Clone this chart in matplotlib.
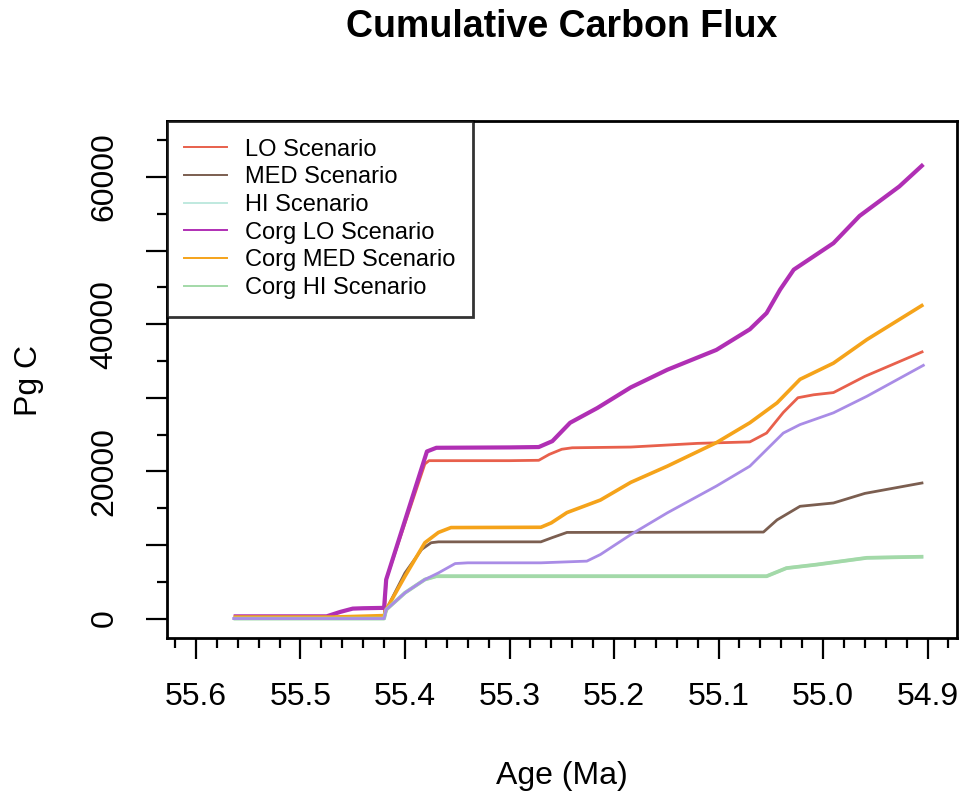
import numpy as np
import matplotlib.pyplot as plt
from matplotlib.lines import Line2D

plt.rcParams['font.family'] = ['Liberation Sans', 'DejaVu Sans']

# ages (Ma) and cumulative flux (Pg C)
age_lo = [55.564, 55.42, 55.418, 55.381, 55.377, 55.30, 55.272, 55.262, 55.25, 55.24,
          55.184, 55.12, 55.07, 55.054, 55.038, 55.024, 55.009, 54.99, 54.96, 54.904]
lo = [0, 0, 5300, 21000, 21450, 21450, 21500, 22300, 23000, 23200,
      23300, 23800, 24000, 25200, 28000, 30000, 30400, 30700, 32900, 36300]

age_med = [55.564, 55.42, 55.418, 55.40, 55.384, 55.375, 55.368, 55.27, 55.259, 55.245,
           55.057, 55.044, 55.022, 54.99, 54.96, 54.904]
med = [0, 0, 1200, 6200, 9400, 10300, 10420, 10420, 11000, 11700,
       11750, 13400, 15250, 15700, 17000, 18450]

age_hi = [55.564, 55.42, 55.418, 55.40, 55.381, 55.37, 55.054, 55.035, 55.006, 54.958, 54.904]
hi = [0, 0, 1200, 3500, 5300, 5750, 5750, 6850, 7330, 8250, 8400]

age_clo = [55.564, 55.475, 55.462, 55.45, 55.44, 55.42, 55.418, 55.379, 55.37, 55.30,
           55.272, 55.259, 55.242, 55.216, 55.184, 55.149, 55.102, 55.070, 55.054, 55.041,
           55.028, 55.009, 54.990, 54.965, 54.927, 54.904]
clo = [300, 300, 900, 1350, 1400, 1450, 5300, 22700, 23200, 23250,
       23300, 24100, 26600, 28600, 31400, 33800, 36500, 39300, 41500, 44700,
       47400, 49200, 51000, 54700, 58700, 61700]

age_cmed = [55.564, 55.47, 55.42, 55.418, 55.40, 55.381, 55.368, 55.356, 55.27, 55.26,
            55.245, 55.228, 55.213, 55.184, 55.149, 55.102, 55.070, 55.044, 55.022, 54.990,
            54.958, 54.904]
cmed = [200, 200, 400, 1200, 5750, 10300, 11700, 12360, 12400, 13000,
        14400, 15300, 16100, 18500, 20700, 23900, 26600, 29300, 32500, 34700,
        37900, 42650]

age_chi = [55.564, 55.42, 55.418, 55.40, 55.381, 55.37, 55.054, 55.035, 55.006, 54.958, 54.904]
chi = [0, 0, 1200, 3500, 5300, 5750, 5750, 6850, 7330, 8250, 8400]

# extra unlabelled series (lavender)
age_extra = [55.564, 55.42, 55.418, 55.40, 55.381, 55.368, 55.352, 55.34, 55.27, 55.226,
             55.213, 55.184, 55.149, 55.102, 55.070, 55.038, 55.022, 54.990, 54.958, 54.904]
extra = [0, 0, 1200, 3500, 5300, 6200, 7470, 7570, 7570, 7800,
         8700, 11400, 14360, 18000, 20700, 25200, 26350, 27950, 30200, 34400]

names = ['LO Scenario', 'MED Scenario', 'HI Scenario',
         'Corg LO Scenario', 'Corg MED Scenario', 'Corg HI Scenario']
colors = ['#E8604C', '#7B5E50', '#BFE9DF', '#B02FB4', '#F5A31A', '#A3D9A8']
widths = [2.0, 2.0, 2.4, 3.0, 2.6, 2.7]

xticks = [55.6, 55.5, 55.4, 55.3, 55.2, 55.1, 55.0, 54.9]
xlabels = ['55.6', '55.5', '55.4', '55.3', '55.2', '55.1', '55.0', '54.9']
yticks = [0, 10000, 20000, 30000, 40000, 50000, 60000]
ylabels = ['0', '', '20000', '', '40000', '', '60000']

fig = plt.figure(figsize=(9.61, 7.98), dpi=100)
ax = fig.add_axes([0.1735, 0.2009, 0.8221, 0.6475])

series = [(age_lo, lo), (age_med, med), (age_hi, hi),
          (age_clo, clo), (age_cmed, cmed), (age_chi, chi)]
for (a, v), c, w in zip(series, colors, widths):
    ax.plot(a, v, color=c, lw=w, solid_capstyle='butt')
ax.plot(age_extra, extra, color='#A98CE6', lw=2.0)

ax.set_xlim(55.628, 54.872)
ax.set_ylim(-2600, 67600)

ax.set_xticks(xticks)
ax.set_xticklabels(xlabels)
ax.set_xticks(np.arange(54.88, 55.63, 0.02), minor=True)
ax.set_yticks(yticks)
ax.set_yticklabels(ylabels, rotation=90, va='center')
ax.set_yticks(np.arange(5000, 66000, 10000), minor=True)

ax.tick_params(which='major', direction='out', length=15, width=1.6, labelsize=23)
ax.tick_params(which='minor', direction='out', length=7.5, width=1.6)
ax.tick_params(axis='x', which='major', pad=17)
ax.tick_params(axis='y', which='major', pad=19)
for s in ax.spines.values():
    s.set_linewidth(2)

handles = [Line2D([], [], color=c, lw=1.4) for c in colors]
leg = ax.legend(handles, names, loc='upper left', fontsize=17, frameon=True,
                fancybox=False, edgecolor='black', borderaxespad=0,
                borderpad=0.75, labelspacing=0.24, handlelength=1.8,
                handletextpad=0.75)
leg.get_frame().set_linewidth(2)

fig.text(0.5845, 1 - 27 / 798, 'Cumulative Carbon Flux', fontsize=27,
         fontweight='bold', ha='center', va='center')
fig.text(0.5845, 1 - 776 / 798, 'Age (Ma)', fontsize=23, ha='center', va='center')
fig.text(29 / 961, 1 - 380 / 798, 'Pg C', fontsize=23, rotation=90,
         ha='center', va='center')

fig.savefig('out.png', dpi=100)
